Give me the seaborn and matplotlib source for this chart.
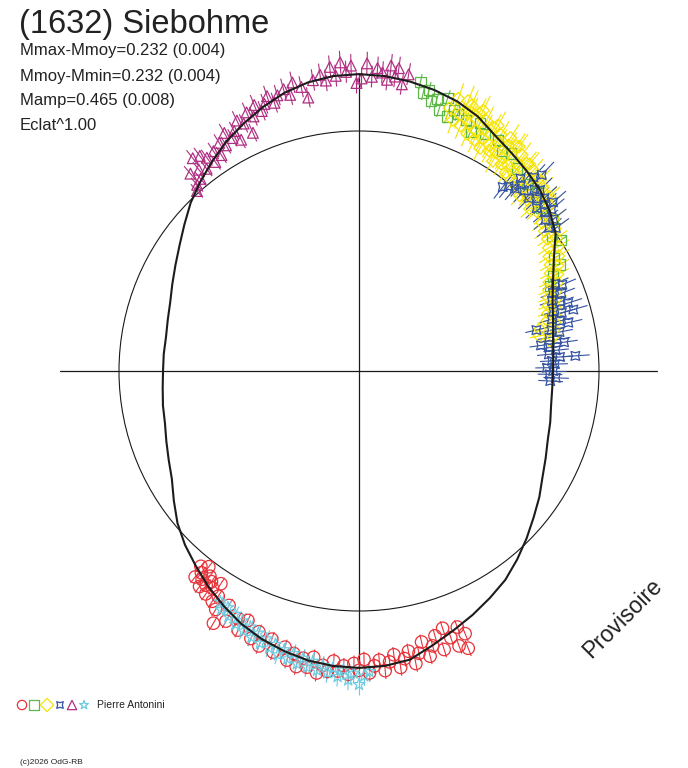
import numpy as np
import pandas as pd
import matplotlib
matplotlib.use("Agg")
import matplotlib.pyplot as plt
from matplotlib.collections import LineCollection
from matplotlib.patches import Circle
import seaborn as sns

# polar lightcurve: angle = rotation phase (deg), radius = flux relative to mean
R0 = 240.0          # radius (px) of the mean-magnitude circle
CX, CY = 359, 371   # centre of the polar diagram in image pixels

fit_phase = [0, 5, 10, 15, 20, 25, 30, 35, 40, 45, 50, 55, 60, 65, 70, 75, 80, 85, 90, 95, 100, 105,
             110, 115, 120, 125, 130, 135, 140, 145, 150, 155, 160, 165, 170, 175, 180, 185, 190, 195,
             200, 205, 210, 215, 220, 225, 230, 235, 240, 245, 250, 255, 260, 265, 270, 275, 280, 285,
             290, 295, 300, 305, 310, 315, 320, 325, 330, 335, 340, 345, 350, 355]
fit_mag = [0.231, 0.225, 0.214, 0.193, 0.166, 0.124, 0.070, 0.000, -0.040, -0.070, -0.091, -0.112,
           -0.136, -0.171, -0.194, -0.209, -0.220, -0.228, -0.231, -0.228, -0.217, -0.198, -0.171,
           -0.140, -0.108, -0.070, -0.031, 0.009, 0.056, 0.099, 0.135, 0.166, 0.193, 0.209, 0.220,
           0.220, 0.220, 0.214, 0.203, 0.193, 0.171, 0.145, 0.114, 0.065, 0.014, -0.027, -0.062,
           -0.099, -0.132, -0.163, -0.187, -0.205, -0.220, -0.228, -0.231, -0.228, -0.217, -0.183,
           -0.152, -0.124, -0.095, -0.066, -0.027, 0.014, 0.056, 0.094, 0.135, 0.166, 0.193, 0.209,
           0.225, 0.231]

red_phase = [231, 231.5, 232, 232.5, 233, 233.5, 234, 234.5, 235, 235.5, 236, 237, 237.5, 238, 239,
             240, 241, 242, 244, 245, 246, 248, 249, 250, 252, 253, 255, 256, 257, 258, 259, 260, 261,
             262, 263, 264, 265, 266, 267, 268, 269, 270, 271, 272, 273, 274, 275, 276, 277, 278, 279,
             280, 281, 282, 283, 284, 285, 286, 287, 288, 289, 290, 291, 291.5, 292]
red_mag = [-0.050, -0.100, -0.070, -0.030, -0.090, -0.120, -0.060, -0.100, -0.075, -0.130, -0.095,
           -0.060, -0.140, -0.110, -0.160, -0.210, -0.120, -0.180, -0.150, -0.190, -0.140, -0.200,
           -0.165, -0.215, -0.175, -0.220, -0.190, -0.235, -0.205, -0.250, -0.215, -0.245, -0.205,
           -0.260, -0.230, -0.250, -0.210, -0.245, -0.225, -0.255, -0.215, -0.240, -0.200, -0.250,
           -0.225, -0.205, -0.245, -0.215, -0.190, -0.240, -0.210, -0.185, -0.235, -0.200, -0.160,
           -0.220, -0.185, -0.150, -0.210, -0.130, -0.175, -0.215, -0.145, -0.235, -0.180]

cyan_phase = [239, 240, 241, 242, 243, 244, 245, 246, 247, 248, 249, 250, 251, 252, 253, 254, 255, 256,
              257, 258, 259, 260, 261, 262, 263, 264, 265, 266, 267, 268, 269, 270, 271, 272]
cyan_mag = [-0.125, -0.150, -0.130, -0.160, -0.140, -0.175, -0.150, -0.185, -0.160, -0.195, -0.170,
            -0.205, -0.180, -0.210, -0.190, -0.225, -0.200, -0.230, -0.205, -0.240, -0.215, -0.245,
            -0.220, -0.250, -0.230, -0.255, -0.235, -0.265, -0.240, -0.275, -0.250, -0.290, -0.260,
            -0.245]

green_phase = [78, 77, 76, 75, 74, 73, 72, 71, 70, 69, 67, 65, 64, 62, 59, 57, 55, 52, 48, 45, 42, 38,
               35, 33, 30, 28, 26, 24]
green_mag = [-0.225, -0.190, -0.205, -0.165, -0.180, -0.140, -0.195, -0.125, -0.160, -0.150, -0.140,
             -0.105, -0.150, -0.120, -0.125, -0.095, -0.110, -0.075, -0.050, -0.060, -0.020, -0.025,
             0.020, -0.005, 0.070, 0.060, 0.115, 0.150]

yellow_phase = [71, 70, 69.5, 68.5, 68, 67.5, 67, 66.5, 66, 65.5, 65, 64.5, 64, 63.5, 63, 62.5, 62,
                61.5, 61, 60.5, 60, 59.5, 59, 58.5, 58, 57.5, 57, 56.5, 56, 55.5, 55, 54.5, 54, 53.5,
                53, 52.5, 52, 51.5, 51, 50.5, 50, 49.5, 49, 48.5, 48, 47.5, 47, 46.5, 46, 45.5, 45,
                44.5, 44, 43.5, 43, 42.5, 42, 41, 40, 39, 38, 37, 36, 35, 34, 33, 32, 31, 30, 29, 28,
                27, 26, 25, 24, 23, 22, 21, 20, 19, 18, 17, 16, 15, 14, 13, 12, 11, 10, 9]
yellow_mag = [-0.160, -0.205, -0.120, -0.150, -0.210, -0.110, -0.200, -0.175, -0.130, -0.090, -0.185,
              -0.200, -0.115, -0.080, -0.170, -0.140, -0.100, -0.060, -0.160, -0.175, -0.090,
              -0.070, -0.150, -0.120, -0.080, -0.040, -0.160, -0.130, -0.075, -0.050, -0.145,
              -0.150, -0.060, -0.030, -0.130, -0.090, -0.050, -0.020, -0.115, -0.120, -0.040,
              -0.010, -0.110, -0.070, -0.030, 0.010, -0.095, -0.100, -0.015, 0.000, -0.085, -0.050,
              -0.020, 0.020, -0.070, -0.080, 0.005, -0.055, -0.005, 0.020, -0.030, 0.035, -0.010,
              0.045, 0.010, 0.065, 0.025, 0.085, 0.045, 0.100, 0.070, 0.120, 0.090, 0.145, 0.110,
              0.165, 0.135, 0.180, 0.150, 0.195, 0.165, 0.210, 0.180, 0.225, 0.190, 0.280, 0.200,
              0.290, 0.215, 0.235]

blue_phase = [52, 51, 50, 49.5, 49, 48, 47.5, 47, 46, 45.5, 45, 44, 43, 42.5, 42, 41, 40.5, 40, 39, 38,
              37, 36, 24, 23, 22, 21, 20, 19, 18, 17, 16, 16, 15, 14, 13, 13, 12, 11, 10, 9, 8, 8, 7,
              6, 5, 4, 4, 3, 2, 1, 0, -1, -2, -3]
blue_mag = [0.030, 0.010, -0.050, 0.000, -0.030, -0.090, -0.020, -0.120, -0.055, -0.010, -0.070, -0.035,
            -0.060, -0.005, -0.040, -0.075, -0.020, -0.050, 0.000, -0.030, 0.010, -0.015, 0.120, 0.090,
            0.150, 0.110, 0.170, 0.130, 0.095, 0.180, 0.140, 0.080, 0.200, 0.160, 0.120, 0.300, 0.215,
            0.175, 0.235, 0.195, 0.160, 0.290, 0.240, 0.210, 0.250, 0.190, 0.110, 0.235, 0.220, 0.265,
            0.230, 0.250, 0.215, 0.245]

magenta_phase = [80.5, 81.5, 82.5, 83, 84, 84.5, 85.5, 86.5, 87.5, 88.5, 89.5, 90.5, 91.5, 92.5, 93.5,
                 94.5, 95.5, 96.5, 97.5, 99, 100.5, 101.5, 103, 104, 105, 106.5, 107.5, 108.5, 109.5,
                 110.5, 111.5, 112.5, 113.5, 114, 115, 116, 117, 117.5, 118.5, 119.5, 120.5, 121.5,
                 122.5, 123.5, 124.5, 125.5, 126.5, 127, 128, 128.5, 129.5, 130.5, 131, 132]
magenta_mag = [-0.245, -0.205, -0.262, -0.230, -0.268, -0.215, -0.240, -0.255, -0.222, -0.270, -0.215,
               -0.198, -0.262, -0.240, -0.275, -0.228, -0.262, -0.214, -0.238, -0.222, -0.160, -0.205,
               -0.228, -0.185, -0.212, -0.196, -0.172, -0.205, -0.180, -0.158, -0.190, -0.150, -0.175,
               -0.090, -0.140, -0.162, -0.085, -0.130, -0.108, -0.142, -0.095, -0.118, -0.070, -0.102,
               -0.060, -0.095, -0.118, -0.058, -0.128, -0.075, -0.040, -0.085, -0.030, -0.010]

# session name -> (phase, mag, mag error, marker, size, colour)
sessions = {
    "red": (red_phase, red_mag, 0.030, "o", 80, "#e8323a"),
    "cyan": (cyan_phase, cyan_mag, 0.035, "*", 80, "#6ccbe0"),
    "green": (green_phase, green_mag, 0.030, "s", 55, "#5db848"),
    "yellow": (yellow_phase, yellow_mag, 0.060, "D", 40, "#f5e400"),
    "blue": (blue_phase, blue_mag, 0.070, (4, 1, 45), 80, "#3553a3"),
    "magenta": (magenta_phase, magenta_mag, 0.040, "^", 60, "#b02f82"),
}
symbol_order = ["red", "green", "yellow", "blue", "magenta", "cyan"]


def to_xy(phase, mag):
    th = np.radians(np.asarray(phase, dtype=float))
    r = R0 * 10 ** (-0.4 * np.asarray(mag, dtype=float))
    return r * np.cos(th), r * np.sin(th)


def px(x, y):
    # image pixel -> data coordinates
    return x - CX, CY - y


sns.set_style("white")
plt.rcParams["font.family"] = ["Liberation Sans", "DejaVu Sans"]

fig = plt.figure(figsize=(6.88, 7.68), dpi=100)
ax = fig.add_axes([0, 0, 1, 1])
ax.set_xlim(-CX, 688 - CX)
ax.set_ylim(CY - 768, CY)
ax.axis("off")

# axes cross and mean circle
ax.plot([-299, 298], [0, 0], color="#1a1a1a", lw=0.9, zorder=1)
ax.plot([0, 0], [-298, 298], color="#1a1a1a", lw=0.9, zorder=1)
ax.add_patch(Circle((0, 0), R0, fill=False, ec="#1a1a1a", lw=0.8, zorder=1))

for name, (ph, mg, err, mk, sz, col) in sessions.items():
    x, y = to_xy(ph, mg)
    x1, y1 = to_xy(ph, np.asarray(mg) - err)
    x2, y2 = to_xy(ph, np.asarray(mg) + err)
    segs = [[(a, b), (c, d)] for a, b, c, d in zip(x1, y1, x2, y2)]
    ax.add_collection(LineCollection(segs, colors=col, linewidths=0.8, zorder=2))
    sns.scatterplot(x=x, y=y, marker=mk, s=sz, color=col, edgecolor=col,
                    facecolors="none", linewidth=0.9, ax=ax, legend=False, zorder=3)

fx, fy = to_xy(fit_phase + fit_phase[:1], fit_mag + fit_mag[:1])
sns.lineplot(x=fx, y=fy, sort=False, estimator=None, color="#1c1c1c", lw=1.5, ax=ax, zorder=4)

# texts
ax.text(*px(19, 24), "(1632) Siebohme", fontsize=23.5, color="#222222", va="center", ha="left")
info_lines = ["Mmax-Mmoy=0.232 (0.004)", "Mmoy-Mmin=0.232 (0.004)", "Mamp=0.465 (0.008)", "Eclat^1.00"]
for i, t in enumerate(info_lines):
    ax.text(*px(20, 51 + 25 * i), t, fontsize=12, color="#222222", va="center", ha="left")

ax.text(*px(623, 618), "Provisoire", fontsize=16.5, color="#222222", rotation=45,
        ha="center", va="center", rotation_mode="anchor")

# session symbol row
for i, name in enumerate(symbol_order):
    ph, mg, err, mk, sz, col = sessions[name]
    lx, ly = px([22, 34, 47, 60, 72, 84][i], 705)
    sns.scatterplot(x=[lx], y=[ly], marker=mk, s=45, color=col, edgecolor=col,
                    facecolors="none", linewidth=0.9, ax=ax, legend=False)
ax.text(*px(97, 705), "Pierre Antonini", fontsize=7.5, color="#222222", va="center", ha="left")
ax.text(*px(20, 763), "(c)2026 OdG-RB", fontsize=6, color="#222222", va="center", ha="left")

fig.savefig("out.png", dpi=100, facecolor="white")
